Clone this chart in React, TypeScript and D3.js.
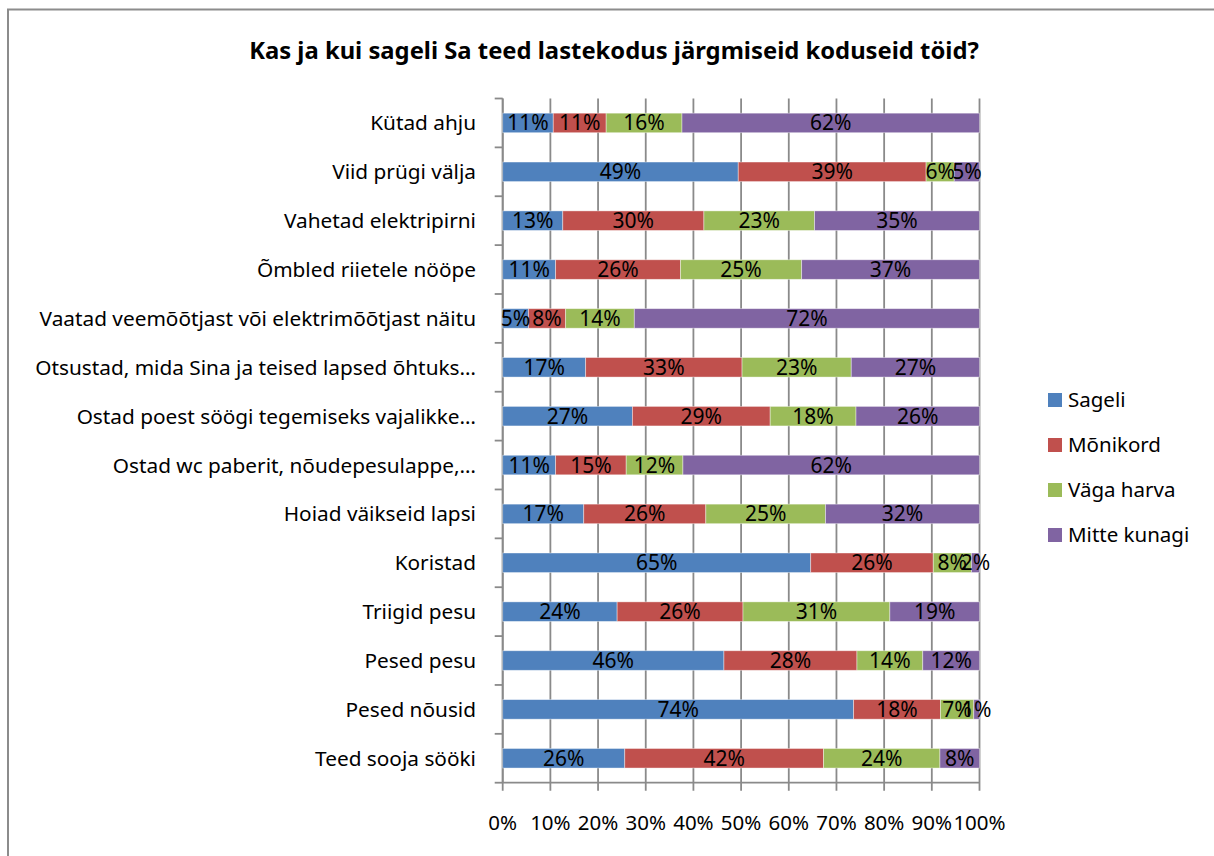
import React from "react";
import * as d3 from "d3";

const categories = [
  "Kütad ahju",
  "Viid prügi välja",
  "Vahetad elektripirni",
  "Õmbled riietele nööpe",
  "Vaatad veemõõtjast või elektrimõõtjast näitu",
  "Otsustad, mida Sina ja teised lapsed õhtuks…",
  "Ostad poest söögi tegemiseks vajalikke…",
  "Ostad wc paberit, nõudepesulappe,…",
  "Hoiad väikseid lapsi",
  "Koristad",
  "Triigid pesu",
  "Pesed pesu",
  "Pesed nõusid",
  "Teed sooja sööki",
];

const sageli = [10.6, 49.4, 12.6, 11.1, 5.4, 17.4, 27.2, 11.1, 17.0, 64.6, 24.0, 46.4, 73.6, 25.6];
const monikord = [11.1, 39.4, 29.6, 26.2, 7.8, 32.8, 28.9, 14.8, 25.6, 25.7, 26.4, 27.9, 18.2, 41.7];
const vagaHarva = [15.9, 5.9, 23.2, 25.4, 14.4, 22.9, 18.0, 11.9, 25.1, 8.0, 30.8, 13.8, 7.0, 24.4];
const mitteKunagi = [62.4, 5.3, 34.6, 37.3, 72.4, 26.9, 25.9, 62.2, 32.3, 1.7, 18.8, 11.9, 1.2, 8.3];

const seriesNames = ["Sageli", "Mõnikord", "Väga harva", "Mitte kunagi"];
const seriesColors = ["#4F81BD", "#C0504D", "#9BBB59", "#8064A2"];
const xTicks = [0, 0.1, 0.2, 0.3, 0.4, 0.5, 0.6, 0.7, 0.8, 0.9, 1];

const title = "Kas ja kui sageli Sa teed lastekodus järgmiseid koduseid töid?";

const FONT = "'Noto Sans', 'Open Sans', sans-serif";
const GRID = "#8a8a8a";

export default function App() {
  const W = 1214;
  const H = 856;
  const left = 502.7;
  const right = 979.5;
  const top = 98.5;
  const bottom = 782.7;

  const seriesValues = [sageli, monikord, vagaHarva, mitteKunagi];
  const rows = categories.map((c, i) => {
    const r: any = { category: c };
    seriesNames.forEach((s, k) => (r[s] = seriesValues[k][i]));
    return r;
  });
  const stacked = d3
    .stack<any>()
    .keys(seriesNames)
    .offset(d3.stackOffsetExpand)(rows);

  const x = d3.scaleLinear().domain([0, 1]).range([left, right]);
  const y = d3
    .scaleBand<string>()
    .domain(categories)
    .range([top, bottom])
    .paddingInner(0.6)
    .paddingOuter(0.3);
  const step = y.step();
  const bw = y.bandwidth();

  const boundaries = d3.range(categories.length + 1).map((i) => top + i * step);

  const legendX = 1048;
  const legendY0 = 400;
  const legendStep = 45;

  return (
    <svg
      width={W}
      height={H}
      style={{ position: "absolute", left: 0, top: 0, background: "#fff" }}
      fontFamily={FONT}
    >
      <rect x={0} y={0} width={W} height={H} fill="#fff" />
      <rect x={8} y={9.5} width={W + 20} height={H + 20} fill="none" stroke="#8c8c8c" strokeWidth={2} />

      <text
        x={614}
        y={59}
        textAnchor="middle"
        fontSize={23.8}
        fontWeight="bold"
        fill="#000"
      >
        {title}
      </text>

      {/* gridlines */}
      {xTicks.map((t) => (
        <line key={"g" + t} x1={x(t)} x2={x(t)} y1={top} y2={bottom + 8} stroke={GRID} strokeWidth={1.8} />
      ))}

      {/* vertical axis */}
      <line x1={left} x2={left} y1={top} y2={bottom} stroke={GRID} strokeWidth={1.8} />
      {boundaries.map((b, i) => (
        <line key={"yt" + i} x1={left - 8} x2={left} y1={b} y2={b} stroke={GRID} strokeWidth={1.8} />
      ))}
      {/* horizontal axis */}
      <line x1={left} x2={right} y1={bottom} y2={bottom} stroke={GRID} strokeWidth={1.8} />

      {/* bars */}
      {stacked.map((s, k) => (
        <g key={s.key}>
          {s.map((d, i) => (
            <rect
              key={i}
              x={x(d[0])}
              y={y(categories[i])}
              width={x(d[1]) - x(d[0])}
              height={bw}
              fill={seriesColors[k]}
              stroke="#ffffff"
              strokeOpacity={0.5}
              strokeWidth={0.8}
            />
          ))}
        </g>
      ))}

      {/* data labels */}
      {stacked.map((s, k) => (
        <g key={"l" + s.key}>
          {s.map((d, i) => (
            <text
              key={i}
              x={(x(d[0]) + x(d[1])) / 2}
              y={(y(categories[i]) as number) + bw / 2}
              dy="0.36em"
              textAnchor="middle"
              fontSize={21}
              fill="#000"
            >
              {Math.round(seriesValues[k][i]) + "%"}
            </text>
          ))}
        </g>
      ))}

      {/* category labels */}
      {categories.map((c) => (
        <text
          key={c}
          x={476}
          y={(y(c) as number) + bw / 2}
          dy="0.36em"
          textAnchor="end"
          fontSize={20.8}
          fill="#000"
        >
          {c}
        </text>
      ))}

      {/* x tick labels */}
      {xTicks.map((t) => (
        <text key={"xl" + t} x={x(t)} y={830} textAnchor="middle" fontSize={20.5} fill="#000">
          {d3.format(".0%")(t)}
        </text>
      ))}

      {/* legend */}
      {seriesNames.map((s, k) => (
        <g key={"lg" + s}>
          <rect x={legendX} y={legendY0 + k * legendStep - 7} width={14} height={14} fill={seriesColors[k]} />
          <text x={1068} y={legendY0 + k * legendStep} dy="0.36em" fontSize={20.5} fill="#000">
            {s}
          </text>
        </g>
      ))}
    </svg>
  );
}
